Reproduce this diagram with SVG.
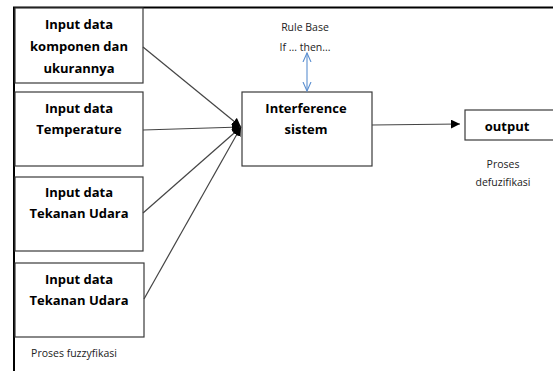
<svg xmlns="http://www.w3.org/2000/svg" width="553" height="371" viewBox="0 0 553 371">
<style>
.box{fill:#fff;stroke:#3a3a3a;stroke-width:1.2}
.b{font-family:"Open Sans","Liberation Sans",sans-serif;font-weight:bold;font-size:13px;fill:#000;text-anchor:middle}
.s{font-family:"Open Sans","Liberation Sans",sans-serif;font-size:10.5px;fill:#222;text-anchor:middle}
.ln{stroke:#444;stroke-width:1.2;fill:none}
</style>
<defs>
<marker id="ah" viewBox="0 0 10 10" refX="10" refY="5" markerWidth="9" markerHeight="9" markerUnits="userSpaceOnUse" orient="auto">
<path d="M0,0 L10,5 L0,10 z" fill="#000"/>
</marker>
<marker id="ob" viewBox="0 0 10 10" refX="9" refY="5" markerWidth="10" markerHeight="10" markerUnits="userSpaceOnUse" orient="auto-start-reverse">
<path d="M0,1 L9,5 L0,9" fill="none" stroke="#5b8fd0" stroke-width="1.1"/>
</marker>
</defs>
<g id="frame">
<path d="M14,371 V7.5 H553" fill="none" stroke="#000" stroke-width="2"/>
</g>
<g id="node1"><rect class="box" x="15" y="8" width="128" height="75"/>
<text class="b" x="79" y="29">Input data</text><text class="b" x="79" y="51">komponen dan</text><text class="b" x="79" y="73">ukurannya</text></g>
<g id="node2"><rect class="box" x="15" y="92" width="128" height="74"/>
<text class="b" x="79" y="113">Input data</text><text class="b" x="79" y="134">Temperature</text></g>
<g id="node3"><rect class="box" x="15" y="177" width="128" height="74"/>
<text class="b" x="79" y="197">Input data</text><text class="b" x="79" y="218">Tekanan Udara</text></g>
<g id="node4"><rect class="box" x="15" y="263" width="129" height="74"/>
<text class="b" x="79" y="284">Input data</text><text class="b" x="79" y="305">Tekanan Udara</text></g>
<g id="inference"><rect class="box" x="242" y="92" width="130" height="74"/>
<text class="b" x="306" y="113">Interference</text><text class="b" x="306" y="134">sistem</text></g>
<g id="output"><rect class="box" x="465" y="110" width="95" height="30"/>
<text class="b" x="507" y="131">output</text></g>
<g id="labels">
<text class="s" x="305" y="31">Rule Base</text>
<text class="s" x="305" y="51">If ... then...</text>
<text class="s" x="503" y="168">Proses</text>
<text class="s" x="503" y="186">defuzifikasi</text>
<text class="s" x="74" y="357">Proses fuzzyfikasi</text>
</g>
<g id="connectors">
<line class="ln" x1="143" y1="47" x2="241" y2="127" marker-end="url(#ah)"/>
<line class="ln" x1="143" y1="130" x2="241" y2="127" marker-end="url(#ah)"/>
<line class="ln" x1="143" y1="213" x2="241" y2="127" marker-end="url(#ah)"/>
<line class="ln" x1="144" y1="299" x2="241" y2="127" marker-end="url(#ah)"/>
<line class="ln" x1="372" y1="125" x2="460" y2="124" marker-end="url(#ah)"/>
<line x1="307" y1="53" x2="307" y2="91" stroke="#5b8fd0" stroke-width="1.1" marker-start="url(#ob)" marker-end="url(#ob)"/>
</g>
</svg>
